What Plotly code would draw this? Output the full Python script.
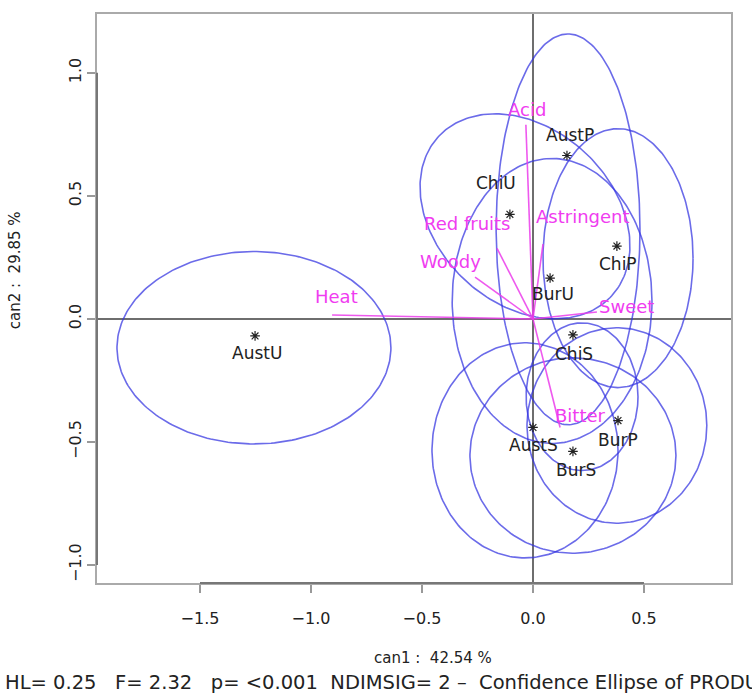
import numpy as np
import plotly.graph_objects as go

# ---------------- data ----------------
products = ["AustU", "AustP", "ChiU", "ChiP", "BurU", "ChiS", "BurP", "AustS", "BurS"]
prod_x = [-1.252, 0.153, -0.104, 0.378, 0.077, 0.180, 0.383, 0.000, 0.180]
prod_y = [-0.069, 0.664, 0.425, 0.296, 0.166, -0.065, -0.413, -0.441, -0.538]

# confidence ellipses (centre, semi-axes, rotation in degrees)
ell_cx = [-1.257, 0.158, -0.036, 0.383, 0.086, 0.221, 0.378, -0.036, 0.180]
ell_cy = [-0.117, 0.364, 0.417, 0.247, 0.073, -0.316, -0.433, -0.534, -0.555]
ell_rx = [0.617, 0.324, 0.510, 0.338, 0.450, 0.252, 0.405, 0.419, 0.464]
ell_ry = [0.391, 0.794, 0.370, 0.526, 0.579, 0.300, 0.397, 0.437, 0.397]
ell_rot = [0, 0, -33, 0, 0, 0, 0, 0, 0]

attributes = ["Acid", "Astringent", "Red fruits", "Woody", "Heat", "Sweet", "Bitter"]
attr_x = [-0.032, 0.045, -0.162, -0.261, -0.905, 0.288, 0.122]
attr_y = [0.789, 0.304, 0.287, 0.170, 0.016, 0.028, -0.441]

x_ticks = [-1.5, -1.0, -0.5, 0.0, 0.5]
y_ticks = [-1.0, -0.5, 0.0, 0.5, 1.0]
x_title = "can1 :  42.54 %"
y_title = "can2 :  29.85 %"
footer = "HL= 0.25   F= 2.32   p= <0.001  NDIMSIG= 2 \u2013  Confidence Ellipse of PRODUCT"

# ---------------- styling ----------------
FONT = "DejaVu Sans"
BLUE = "rgba(50,50,225,0.72)"
PINK_LINE = "rgba(235,60,235,0.85)"
PINK_TEXT = "#f03cf0"
GREY = "#6e6e6e"

# label offsets in pixels (dx, dy) relative to the marks
prod_shift = {"AustU": (2, -17), "AustP": (3, 21), "ChiU": (-14, 31), "ChiP": (1, -18),
              "BurU": (3, -16), "ChiS": (1, -19), "BurP": (0, -19), "AustS": (1, -18),
              "BurS": (3, -19)}
attr_shift = {"Acid": (1, 15), "Astringent": (40, 28), "Red fruits": (-30, 25),
              "Woody": (-25, 16), "Heat": (4, 18), "Sweet": (30, 6), "Bitter": (20, 12)}

fig = go.Figure()

t = np.linspace(0, 2 * np.pi, 240)
for cx, cy, rx, ry, rot in zip(ell_cx, ell_cy, ell_rx, ell_ry, ell_rot):
    p = np.deg2rad(rot)
    ex = cx + rx * np.cos(t) * np.cos(p) - ry * np.sin(t) * np.sin(p)
    ey = cy + rx * np.cos(t) * np.sin(p) + ry * np.sin(t) * np.cos(p)
    fig.add_trace(go.Scatter(x=ex, y=ey, mode="lines", line=dict(color=BLUE, width=1.6),
                             hoverinfo="skip", showlegend=False))

for ax_, ay_ in zip(attr_x, attr_y):
    fig.add_trace(go.Scatter(x=[0, ax_], y=[0, ay_], mode="lines",
                             line=dict(color=PINK_LINE, width=1.6),
                             hoverinfo="skip", showlegend=False))

fig.add_trace(go.Scatter(x=prod_x, y=prod_y, mode="markers",
                         marker=dict(symbol="asterisk-open", size=8, color="#222",
                                     line=dict(color="#222", width=1.2)),
                         showlegend=False, hoverinfo="skip"))

annotations = []
for name, px_, py_ in zip(products, prod_x, prod_y):
    dx, dy = prod_shift[name]
    annotations.append(dict(x=px_, y=py_, xref="x", yref="y", text=name, showarrow=False,
                            xshift=dx, yshift=dy,
                            font=dict(family=FONT, size=17, color="#222")))
for name, px_, py_ in zip(attributes, attr_x, attr_y):
    dx, dy = attr_shift[name]
    annotations.append(dict(x=px_, y=py_, xref="x", yref="y", text=name, showarrow=False,
                            xshift=dx, yshift=dy,
                            font=dict(family=FONT, size=18, color=PINK_TEXT)))

annotations.append(dict(x=0.53, y=-0.131, xref="paper", yref="paper", text=x_title,
                        xanchor="center", yanchor="middle", showarrow=False,
                        font=dict(family=FONT, size=15, color="#222")))
annotations.append(dict(x=-0.129, y=0.55, xref="paper", yref="paper", text=y_title,
                        xanchor="center", yanchor="middle", textangle=-90, showarrow=False,
                        font=dict(family=FONT, size=15, color="#222")))
annotations.append(dict(x=-0.149, y=-0.175, xref="paper", yref="paper", text=footer,
                        xanchor="left", yanchor="middle", showarrow=False,
                        font=dict(family=FONT, size=19.5, color="#222")))

axis_common = dict(showgrid=False, zeroline=True, zerolinecolor=GREY, zerolinewidth=2,
                   showline=True, linecolor="#aaa", linewidth=2, mirror=True,
                   ticks="outside", ticklen=8, tickcolor="#999", tickwidth=2,
                   tickfont=dict(family=FONT, size=16, color="#222"))

# darker axis segments spanning first to last tick (R style)
shapes = [
    dict(type="line", xref="x", yref="paper", x0=x_ticks[0], x1=x_ticks[-1], y0=0, y1=0,
         line=dict(color="#777", width=2)),
    dict(type="line", xref="paper", yref="y", x0=0, x1=0, y0=y_ticks[0], y1=y_ticks[-1],
         line=dict(color="#777", width=2)),
]

fig.update_layout(
    width=752, height=693,
    margin=dict(l=97, r=21, t=12, b=110),
    plot_bgcolor="white", paper_bgcolor="white",
    xaxis=dict(range=[-1.964, 0.892], tickvals=x_ticks, ticklabelstandoff=12,
               ticktext=[f"{v:.1f}".replace("-", "\u2212") for v in x_ticks], **axis_common),
    yaxis=dict(range=[-1.073, 1.239], tickvals=y_ticks, tickangle=-90,
               ticktext=[f"{v:.1f}".replace("-", "\u2212") for v in y_ticks], **axis_common),
    annotations=annotations,
    shapes=shapes,
)

fig.write_html("out.html", config={"displayModeBar": False},
               post_script="document.body.style.margin='0';document.body.style.overflow='hidden';")
